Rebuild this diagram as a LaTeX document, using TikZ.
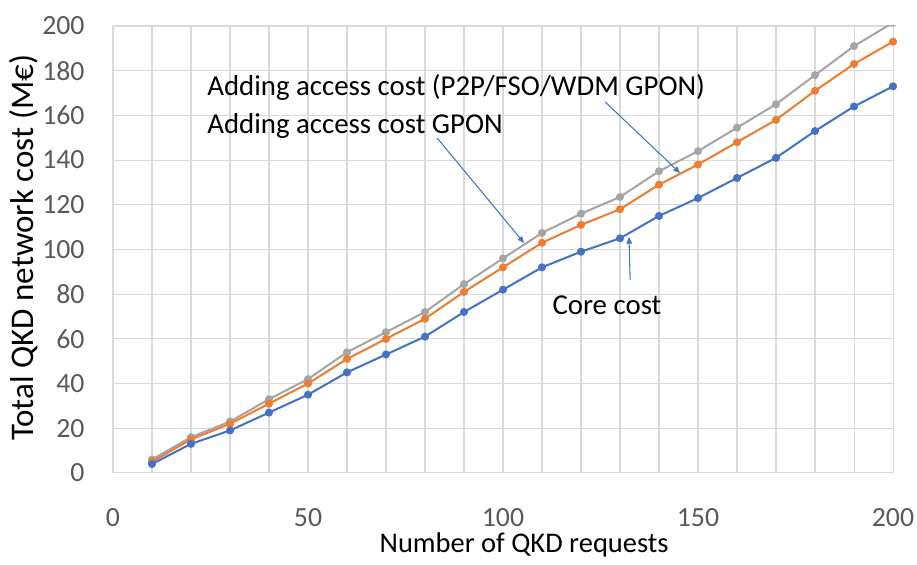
\documentclass[tikz,border=0pt]{standalone}
\usepackage{fontspec}
\setmainfont{Carlito}
\usetikzlibrary{arrows.meta}
\definecolor{corecol}{HTML}{4472C4}
\definecolor{gponcol}{HTML}{ED7D31}
\definecolor{p2pcol}{HTML}{A5A5A5}
\definecolor{gridcol}{HTML}{D9D9D9}
\definecolor{tickcol}{HTML}{595959}
\begin{document}
\begin{tikzpicture}[x=0.078cm,y=0.0447cm]
    \tikzset{series/.style={line width=1.15pt,line join=round,mark=*,mark size=1.7pt},
        callout/.style={corecol,line width=0.6pt,-{Triangle[length=3.8pt,width=3.2pt]}},
        ticklabel/.style={text=tickcol,inner sep=0pt,font=\fontsize{15.8}{18}\selectfont},
        axistitle/.style={inner sep=0pt,anchor=base},
        note/.style={inner sep=0pt,anchor=base west,font=\fontsize{16.4}{20}\selectfont}};
    \useasboundingbox (-28.97,-41.16) rectangle (206.15,211.63);
    % grid and tick labels
    \foreach \gx in {0,10,...,200} \draw[gridcol,line width=0.6pt] (\gx,0) -- (\gx,200);
    \foreach \gy in {0,20,...,200} \draw[gridcol,line width=0.6pt] (0,\gy) -- (200,\gy);
    \foreach \gy in {0,20,...,200} \node[ticklabel,anchor=east] (ylab\gy) at (-7.2,\gy) {\gy};
    \foreach \gx in {0,50,...,200} \node[ticklabel] (xlab\gx) at (\gx,-20.2) {\gx};
    \node[axistitle,font=\fontsize{16.2}{18}\selectfont] (xtitle) at (105.4,-35.6) {Number of QKD requests};
    \node[axistitle,rotate=90,font=\fontsize{18.8}{20}\selectfont] (ytitle) at (-20.5,100.7) {Total QKD network cost (M€)};
    % cost curves
    \begin{scope}
        \clip (-10,-10) rectangle (210,200);
        \draw[series,p2pcol] plot coordinates {(10,6) (20,16) (30,23) (40,33) (50,42) (60,54) (70,63) (80,72) (90,84.5) (100,96) (110,107.4) (120,116) (130,123.5) (140,135) (150,144) (160,154.5) (170,165) (180,178) (190,191) (200,201.5)};
        \draw[series,gponcol] plot coordinates {(10,5) (20,15) (30,22) (40,31) (50,40) (60,51) (70,60) (80,69) (90,81) (100,92) (110,103) (120,111) (130,118) (140,129) (150,138) (160,148) (170,158) (180,171) (190,183) (200,193)};
        \draw[series,corecol] plot coordinates {(10,4) (20,13) (30,19) (40,27) (50,35) (60,45) (70,53) (80,61) (90,72) (100,82) (110,92) (120,99) (130,105) (140,115) (150,123) (160,132) (170,141) (180,153) (190,164) (200,173)};
    \end{scope}
    % labels with their arrows
    \node[note] (p2p) at (24.1,169.1) {Adding access cost (P2P/FSO/WDM GPON)};
    \node[note] (gpon) at (24.1,151.7) {Adding access cost GPON};
    \node[note] (core) at (112.6,70.7) {Core cost};
    \coordinate (p2pfrom) at (126.2,166);
    \coordinate (p2pto) at (145.4,134.2);
    \coordinate (gponfrom) at (83.1,149.9);
    \coordinate (gponto) at (105.4,102.9);
    \coordinate (corefrom) at (132.6,86.4);
    \coordinate (coreto) at (132.3,105.6);
    \draw[callout] (p2pfrom) -- (p2pto);
    \draw[callout] (gponfrom) -- (gponto);
    \draw[callout] (corefrom) -- (coreto);
\end{tikzpicture}
\end{document}
